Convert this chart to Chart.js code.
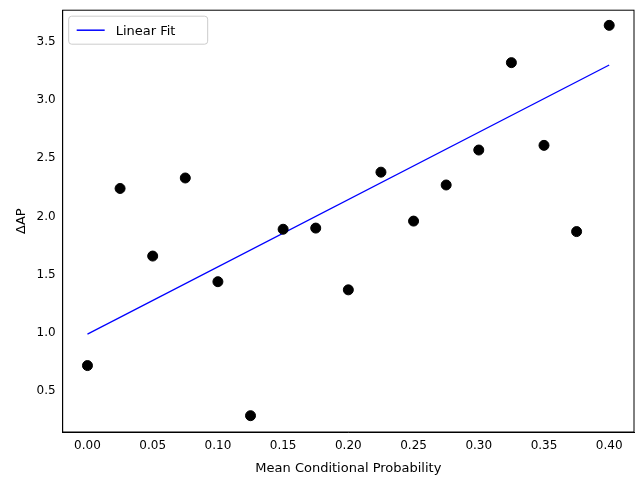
<!DOCTYPE html>
<html><head><script src="https://cdn.jsdelivr.net/npm/chart.js@4"></script>
<style>body{margin:0;background:#fff}#w{width:640px;height:486px}</style></head>
<body><div id="w"><canvas id="c"></canvas></div>
<script>
const xVals=[0,0.025,0.05,0.075,0.10,0.125,0.15,0.175,0.20,0.225,0.25,0.275,0.30,0.325,0.35,0.375,0.40];
const yVals=[0.72,2.24,1.66,2.33,1.44,0.29,1.89,1.90,1.37,2.38,1.96,2.27,2.57,3.32,2.61,1.87,3.64];
const fitX=[0,0.40];
const fitY=[0.99,3.30];
const F='"DejaVu Sans"';
const frame={id:'frame',afterDraw(c){const a=c.chartArea,x=c.ctx;x.save();x.strokeStyle='#000';x.lineWidth=1;x.strokeRect(a.left,a.top,a.right-a.left,a.bottom-a.top);
const lx=a.left+6,ly=a.top+6;x.fillStyle='#fff';x.strokeStyle='#ccc';x.beginPath();x.roundRect(lx,ly,139,28,3);x.fill();x.stroke();
x.strokeStyle='blue';x.lineWidth=1.5;x.beginPath();x.moveTo(lx+8,ly+14);x.lineTo(lx+36,ly+14);x.stroke();
x.fillStyle='#000';x.font='13px '+F;x.textBaseline='middle';x.fillText('Linear Fit',lx+47,ly+15);x.restore();}};
new Chart(document.getElementById('c'),{type:'scatter',
data:{datasets:[
{data:fitX.map((v,i)=>({x:v,y:fitY[i]})),type:'line',showLine:true,borderColor:'blue',borderWidth:1.3,pointRadius:0,order:2},
{data:xVals.map((v,i)=>({x:v,y:yVals[i]})),backgroundColor:'#000',borderColor:'#000',pointRadius:5,order:1}]},
options:{animation:false,responsive:true,maintainAspectRatio:false,
layout:{padding:{top:0,right:2,left:10,bottom:6}},
plugins:{legend:{display:false},tooltip:{enabled:false}},
scales:{
x:{type:'linear',min:-0.019,max:0.419,grid:{display:false,drawTicks:true,tickLength:4},border:{color:'#000'},
 afterBuildTicks:s=>{s.ticks=[0,0.05,0.1,0.15,0.2,0.25,0.3,0.35,0.4].map(v=>({value:v}))},
 ticks:{color:'#000',font:{family:F,size:12},callback:v=>v.toFixed(2),maxRotation:0},
 title:{display:true,text:'Mean Conditional Probability',color:'#000',font:{family:F,size:13}}},
y:{min:0.15,max:3.77,grid:{display:false,tickLength:4},border:{color:'#000'},
 afterBuildTicks:s=>{s.ticks=[0.5,1,1.5,2,2.5,3,3.5].map(v=>({value:v}))},
 ticks:{color:'#000',font:{family:F,size:12},callback:v=>v.toFixed(1)},
 title:{display:true,text:'ΔAP',color:'#000',font:{family:F,size:13}}}}},
plugins:[frame]});
</script></body></html>
